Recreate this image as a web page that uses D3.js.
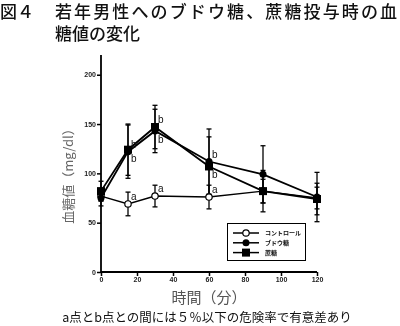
<!DOCTYPE html>
<html><head><meta charset="utf-8">
<script src="https://cdn.jsdelivr.net/npm/d3@7"></script>
<style>
html,body{margin:0;padding:0;background:#fff;}
svg{display:block;font-family:"Noto Sans CJK JP","Noto Sans",sans-serif;opacity:0.999;will-change:transform;}
</style></head>
<body>
<svg id="c" width="400" height="326"></svg>
<script>
// Blood glucose (mg/dl) after glucose / sucrose load, young men
const times = [0, 15, 30, 60, 90, 120];
const controlMean = [77, 69, 77, 76, 82, 75];
const controlSD   = [5, 12, 11, 12, 12, 11];
const glucoseMean = [75, 122, 143, 112, 99, 76];
const glucoseSD   = [8, 27, 22, 33, 29, 25];
const sucroseMean = [82, 124, 147, 107, 82, 74];
const sucroseSD   = [10, 26, 22, 30, 21, 16];
const xTicks = [0, 20, 40, 60, 80, 100, 120];
const yTicks = [0, 50, 100, 150, 200];
const seriesNames = ["コントロール", "ブドウ糖", "蔗糖"];
// significance letters: [time index, series, letter, above(true)/below(false)]
const sigMarks = [
  [1, "glucose", "b", true], [1, "sucrose", "b", false],
  [2, "sucrose", "b", true], [2, "glucose", "b", false],
  [3, "glucose", "b", true], [3, "sucrose", "b", false],
  [1, "control", "a", true], [2, "control", "a", true], [3, "control", "a", true]
];

const svg = d3.select("#c");
const x = d3.scaleLinear().domain([0, 120]).range([101, 317]);
const y = d3.scaleLinear().domain([0, 220]).range([272, 55]);

// title
const title = svg.append("g").attr("font-size", 17).attr("fill", "#111").attr("font-weight", 500);
title.append("text").attr("x", 0).attr("y", 18).text("図４");
title.append("text").attr("x", 55).attr("y", 18).attr("textLength", 342).text("若年男性へのブドウ糖、蔗糖投与時の血");
title.append("text").attr("x", 55).attr("y", 40).text("糖値の変化");

// axes
const yAxis = svg.append("g").attr("transform", "translate(101,0)")
  .call(d3.axisLeft(y).tickValues(yTicks).tickSize(4).tickPadding(1));
const xAxis = svg.append("g").attr("transform", "translate(0,272)")
  .call(d3.axisBottom(x).tickValues(xTicks).tickSize(4).tickPadding(1));
[yAxis, xAxis].forEach(a => {
  a.select(".domain").attr("stroke", "#000").attr("stroke-width", 1.8);
  a.selectAll(".tick line").attr("stroke", "#000").attr("stroke-width", 1.5);
  a.selectAll(".tick text").attr("font-family", "Liberation Sans, Arial, sans-serif")
    .attr("font-size", 7).attr("font-weight", "bold").attr("fill", "#222");
});
yAxis.select(".domain").attr("d", `M0,${y(220)}V${y(0)}`);
xAxis.select(".domain").attr("d", `M${x(0)},0H${x(120)}`);

// axis titles
svg.append("text").attr("transform", "translate(73,173) rotate(-90)")
  .attr("text-anchor", "middle").attr("font-size", 13).attr("fill", "#666")
  .text("血糖値（mg/dl）");
svg.append("text").attr("x", 209).attr("y", 303).attr("text-anchor", "middle")
  .attr("font-size", 15).attr("fill", "#555").text("時間（分）");
svg.append("text").attr("x", 207).attr("y", 322).attr("text-anchor", "middle")
  .attr("font-size", 12.5).attr("fill", "#111").text("a点とb点との間には５％以下の危険率で有意差あり");

const series = [
  {key: "control", mean: controlMean, sd: controlSD, marker: "open"},
  {key: "glucose", mean: glucoseMean, sd: glucoseSD, marker: "circle"},
  {key: "sucrose", mean: sucroseMean, sd: sucroseSD, marker: "square"}
];

const plot = svg.append("g");
// error bars
series.forEach(s => {
  const g = plot.append("g");
  times.forEach((t, i) => {
    const cx = x(t), top = y(s.mean[i] + s.sd[i]), bot = y(s.mean[i] - s.sd[i]);
    g.append("line").attr("x1", cx).attr("x2", cx).attr("y1", top).attr("y2", bot)
      .attr("stroke", "#000").attr("stroke-width", 1.3);
    [top, bot].forEach(yy => g.append("line").attr("x1", cx - 2.5).attr("x2", cx + 2.5)
      .attr("y1", yy).attr("y2", yy).attr("stroke", "#000").attr("stroke-width", 1.3));
  });
});
// lines
const line = d3.line().x((d, i) => x(times[i])).y(d => y(d));
series.forEach(s => {
  plot.append("path").datum(s.mean).attr("d", line).attr("fill", "none")
    .attr("stroke", "#000").attr("stroke-width", s.key === "control" ? 1.4 : 1.8);
});
// markers
function drawMarker(g, type, cx, cy) {
  if (type === "square") {
    g.append("rect").attr("x", cx - 4).attr("y", cy - 4).attr("width", 8).attr("height", 8).attr("fill", "#000");
  } else if (type === "circle") {
    g.append("circle").attr("cx", cx).attr("cy", cy).attr("r", 3.5).attr("fill", "#000");
  } else {
    g.append("circle").attr("cx", cx).attr("cy", cy).attr("r", 3.2).attr("fill", "#fff")
      .attr("stroke", "#000").attr("stroke-width", 1.2);
  }
}
series.forEach(s => {
  const g = plot.append("g");
  s.mean.forEach((v, i) => drawMarker(g, s.marker, x(times[i]), y(v)));
});

// significance letters
const byKey = Object.fromEntries(series.map(s => [s.key, s]));
sigMarks.forEach(([i, key, letter, above]) => {
  const v = byKey[key].mean[i];
  svg.append("text").attr("x", x(times[i]) + 3)
    .attr("y", y(v) + (above ? -4 : 12))
    .attr("font-family", "Liberation Sans, Arial, sans-serif")
    .attr("font-size", 10).attr("fill", "#111").text(letter);
});

// legend
const lg = svg.append("g");
lg.append("rect").attr("x", 227.5).attr("y", 223.5).attr("width", 78).attr("height", 37)
  .attr("fill", "#fff").attr("stroke", "#000").attr("stroke-width", 1);
const legendMarkers = ["open", "circle", "square"];
seriesNames.forEach((name, i) => {
  const yy = 233 + i * 9.8;
  lg.append("line").attr("x1", 233).attr("x2", 259).attr("y1", yy).attr("y2", yy)
    .attr("stroke", "#000").attr("stroke-width", 1.5);
  drawMarker(lg, legendMarkers[i], 246, yy);
  lg.append("text").attr("x", 265).attr("y", yy + 2.3).attr("font-size", 6)
    .attr("font-weight", "bold").attr("fill", "#111").text(name);
});
</script>
</body></html>
